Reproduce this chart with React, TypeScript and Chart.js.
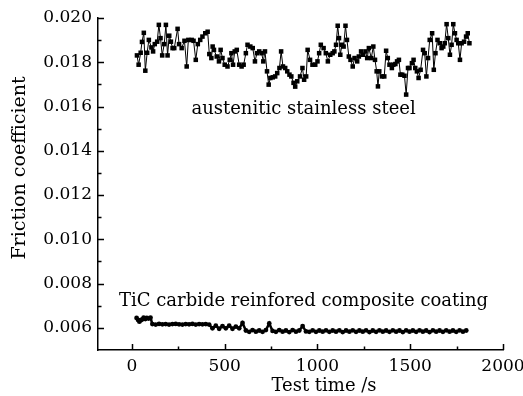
import React, { useEffect, useRef } from "react";
import { Chart, registerables } from "chart.js";

Chart.register(...registerables);

const steelTimes = [
  27, 36, 47, 54, 64, 72, 82, 91, 105, 114, 123, 136, 145, 154, 163, 174, 183, 192, 201, 210,
  219, 228, 246, 254, 268, 283, 295, 304, 322, 332, 344, 355, 368, 380, 395, 408, 417, 428, 435,
  442, 457, 469, 478, 488, 500, 515, 527, 536, 545, 554, 565, 578, 591, 602, 614, 623, 638, 651, 663,
  674, 686, 699, 708, 717, 728, 737, 746, 759, 772, 783, 795, 804, 814, 826, 837, 849, 859, 871,
  880, 891, 906, 919, 928, 939, 947, 960, 973, 988, 1000, 1009, 1018, 1033, 1045, 1056, 1069, 1082, 1091, 1100,
  1109, 1116, 1123, 1132, 1141, 1151, 1159, 1169, 1178, 1190, 1200, 1214, 1223, 1235, 1246, 1259, 1268, 1277, 1290, 1301,
  1310, 1319, 1326,
  1333, 1348, 1360, 1370, 1379, 1388, 1401, 1409, 1420, 1429, 1439, 1447, 1457, 1469, 1478, 1488, 1496, 1509, 1518, 1527,
  1536, 1545, 1556, 1569, 1578, 1587, 1596, 1605, 1618, 1627, 1636, 1647, 1659, 1669, 1678, 1686, 1696, 1705, 1714, 1723,
  1732, 1741, 1750, 1759, 1768, 1777, 1790, 1801, 1810, 1819,
];

const steelValues = [
  0.01831, 0.01789, 0.01843, 0.01892, 0.01933, 0.01762, 0.01843, 0.01901, 0.01867, 0.01849,
  0.01882, 0.01893, 0.01969, 0.01909, 0.01831, 0.01882, 0.01969, 0.01831, 0.0192, 0.01893,
  0.01864, 0.01864, 0.01951, 0.01882, 0.01864, 0.01897, 0.01781, 0.01901, 0.01901, 0.01897,
  0.01811, 0.01882, 0.01901, 0.01916, 0.01931, 0.01938, 0.01837, 0.01819, 0.01871,
  0.01856, 0.01826, 0.01804, 0.01856, 0.01819, 0.01789, 0.01781, 0.01811, 0.01841, 0.01789,
  0.01849, 0.01856, 0.01789, 0.01781, 0.01789, 0.01841, 0.01879, 0.01871, 0.01864, 0.01804,
  0.01841, 0.01849, 0.01841, 0.01804, 0.01849, 0.01759, 0.01699, 0.01729, 0.01732, 0.01736,
  0.01751, 0.01774, 0.01849, 0.01781, 0.01774, 0.01759, 0.01744, 0.01736, 0.01707,
  0.0169, 0.01714, 0.01736, 0.01774, 0.01721, 0.01736, 0.01856, 0.01811, 0.01789, 0.01789,
  0.01804, 0.01841, 0.01879, 0.01864, 0.01841, 0.01804, 0.01834, 0.01841, 0.01849, 0.01879,
  0.01965, 0.01909, 0.01834, 0.01879, 0.01871, 0.01965, 0.01901, 0.01826, 0.01811, 0.01781,
  0.01819, 0.01804, 0.01826, 0.01849, 0.01834, 0.01849, 0.01819, 0.01864, 0.01819, 0.01871,
  0.01811, 0.01759, 0.01691,
  0.01759, 0.01736, 0.01736, 0.01852, 0.01819, 0.01789, 0.01774, 0.01789, 0.01792, 0.01804,
  0.01811, 0.01744, 0.01744, 0.01739, 0.01654, 0.01774, 0.01774, 0.01796, 0.01811, 0.01774,
  0.01759, 0.01729, 0.01766, 0.01856, 0.01841, 0.01736, 0.01819, 0.01901, 0.01931, 0.01766,
  0.01841, 0.01901, 0.01886, 0.01864, 0.01871, 0.01886, 0.01972, 0.01909, 0.01834, 0.01879,
  0.01972, 0.01931, 0.01901, 0.01886, 0.01811, 0.01886, 0.01893, 0.01916, 0.01931, 0.01886,
];

const ticTimes = [
  25, 33, 40, 48, 55, 63, 72, 80, 90, 100,
  110, 128, 146, 164, 182, 200, 218, 236, 254, 272, 290, 308, 326, 344, 362, 380, 398, 416,
  434, 452, 470, 488, 506, 524, 542, 560, 578, 596,
  614, 632, 650, 668, 686, 704, 722, 740, 758, 776, 794, 812, 830, 848, 866, 884, 902, 920, 938, 956,
  974, 992, 1010, 1028, 1046, 1064, 1082, 1100, 1118, 1136, 1154, 1172, 1190, 1208, 1226, 1244, 1262, 1280,
  1298, 1316, 1334, 1352, 1370, 1388, 1406, 1424, 1442, 1460, 1478, 1496, 1514, 1532, 1550, 1568, 1586, 1604,
  1622, 1640, 1658, 1676, 1694, 1712, 1730, 1748, 1766, 1784, 1802,
];

const ticValues = [
  0.00645, 0.00636, 0.00628, 0.00634, 0.00638, 0.00646, 0.0064, 0.00645, 0.00642, 0.00646,
  0.00617, 0.00615, 0.00618, 0.00616, 0.00617, 0.00615, 0.00617, 0.00618, 0.00616, 0.00615, 0.00617, 0.00616, 0.00618, 0.00615, 0.00617, 0.00616, 0.00617, 0.00615,
  0.00598, 0.0061, 0.00596, 0.00608, 0.00598, 0.0061, 0.00596, 0.00606, 0.00598, 0.00622,
  0.00588, 0.00582, 0.0059, 0.00583, 0.00588, 0.00582, 0.0059, 0.0062, 0.00586, 0.00582, 0.0059, 0.00583, 0.00588, 0.00581, 0.0059, 0.00583, 0.00588, 0.00608, 0.00584, 0.00582,
  0.00589, 0.00582, 0.00588, 0.00583, 0.00589, 0.00582, 0.00588, 0.00583, 0.00589, 0.00581, 0.00588, 0.00583, 0.00589, 0.00582, 0.00588, 0.00583, 0.00589, 0.00581,
  0.00588, 0.00582, 0.00589, 0.00583, 0.00588, 0.00582, 0.00589, 0.00583, 0.00588, 0.00581, 0.00589, 0.00583, 0.00588, 0.00582, 0.00589, 0.00583, 0.00588, 0.00581,
  0.00589, 0.00583, 0.00588, 0.00582, 0.00589, 0.00583, 0.00588, 0.00582, 0.00589, 0.00583, 0.00588,
];

const xMajorTicks = [0, 500, 1000, 1500, 2000];
const xMinorTicks = [250, 750, 1250, 1750];
const yMajorTicks = [0.006, 0.008, 0.01, 0.012, 0.014, 0.016, 0.018, 0.02];
const yMinorTicks = [0.007, 0.009, 0.011, 0.013, 0.015, 0.017, 0.019];

const xAxisTitle = "Test time /s";
const yAxisTitle = "Friction coefficient";
const annotationTexts = ["austenitic stainless steel", "TiC carbide reinfored composite coating"];
const annotationX = [925, 925];
const annotationY = [0.01588, 0.00719];

const FONT = "'DejaVu Serif', serif";

const decorPlugin = {
  id: "decor",
  afterDraw(chart: any) {
    const { ctx, chartArea, scales } = chart;
    const x = scales.x;
    const y = scales.y;
    ctx.save();
    ctx.strokeStyle = "#000";
    ctx.lineWidth = 1.5;
    ctx.beginPath();
    const drawX = (vals: number[], len: number) => {
      vals.forEach((v) => {
        const px = Math.round(x.getPixelForValue(v)) + 0.5;
        ctx.moveTo(px, chartArea.bottom);
        ctx.lineTo(px, chartArea.bottom - len);
      });
    };
    const drawY = (vals: number[], len: number) => {
      vals.forEach((v) => {
        const py = Math.round(y.getPixelForValue(v)) + 0.5;
        ctx.moveTo(chartArea.left, py);
        ctx.lineTo(chartArea.left + len, py);
      });
    };
    drawX(xMajorTicks, 6);
    drawX(xMinorTicks, 3.5);
    drawY(yMajorTicks, 6);
    drawY(yMinorTicks, 3.5);
    ctx.stroke();

    ctx.fillStyle = "#000";
    ctx.textAlign = "center";
    ctx.textBaseline = "middle";
    ctx.font = `18px ${FONT}`;
    annotationTexts.forEach((t, i) => {
      ctx.fillText(t, x.getPixelForValue(annotationX[i]), y.getPixelForValue(annotationY[i]));
    });

    ctx.font = `18px ${FONT}`;
    ctx.fillText(xAxisTitle, 324, 386);
    ctx.save();
    ctx.translate(20, 168);
    ctx.rotate(-Math.PI / 2);
    ctx.font = `19px ${FONT}`;
    ctx.fillText(yAxisTitle, 0, 0);
    ctx.restore();
    ctx.restore();
  },
};

export default function App() {
  const ref = useRef<HTMLCanvasElement | null>(null);
  useEffect(() => {
    if (!ref.current) return;
    const chart = new Chart(ref.current, {
      type: "line",
      data: {
        datasets: [
          {
            label: "steel",
            data: steelTimes.map((t, i) => ({ x: t, y: steelValues[i] })),
            borderColor: "#000",
            borderWidth: 1,
            pointStyle: "rect",
            pointRadius: 3.2,
            pointBackgroundColor: "#000",
            pointBorderWidth: 0,
            tension: 0,
          },
          {
            label: "tic",
            data: ticTimes.map((t, i) => ({ x: t, y: ticValues[i] })),
            borderColor: "#000",
            borderWidth: 2.5,
            pointStyle: "circle",
            pointRadius: 2.4,
            pointBackgroundColor: "#000",
            pointBorderWidth: 0,
            tension: 0,
          },
        ],
      },
      options: {
        animation: false,
        responsive: false,
        devicePixelRatio: 1,
        layout: { padding: { top: 18, right: 20, left: 0, bottom: 0 } },
        plugins: { legend: { display: false }, tooltip: { enabled: false } },
        scales: {
          x: {
            type: "linear",
            min: -183,
            max: 2000,
            grid: { display: false, drawTicks: false },
            border: { display: true, color: "#000", width: 1.5 },
            afterBuildTicks: (s: any) => {
              s.ticks = xMajorTicks.map((v) => ({ value: v }));
            },
            afterFit: (s: any) => {
              s.height = 46;
              s.paddingRight = 0;
              s.paddingLeft = 0;
            },
            ticks: {
              color: "#000",
              padding: 6,
              maxRotation: 0,
              font: { family: FONT, size: 17 },
              callback: (v: any) => String(v),
            },
          },
          y: {
            type: "linear",
            min: 0.005,
            max: 0.02,
            grid: { display: false, drawTicks: false },
            border: { display: true, color: "#000", width: 1.5 },
            afterBuildTicks: (s: any) => {
              s.ticks = yMajorTicks.map((v) => ({ value: v }));
            },
            afterFit: (s: any) => {
              s.width = 98;
              s.paddingTop = 0;
              s.paddingBottom = 0;
            },
            ticks: {
              color: "#000",
              padding: 6,
              font: { family: FONT, size: 17 },
              callback: (v: any) => Number(v).toFixed(3),
            },
          },
        },
      },
      plugins: [decorPlugin],
    });
    return () => chart.destroy();
  }, []);
  return (
    <div style={{ position: "absolute", left: 0, top: 0, width: 523, height: 396, background: "#fff" }}>
      <canvas ref={ref} width={523} height={396} style={{ width: 523, height: 396 }} />
    </div>
  );
}
